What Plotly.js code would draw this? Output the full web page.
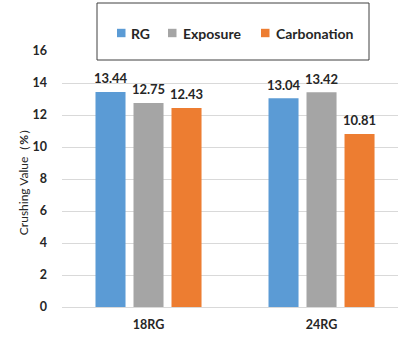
<!DOCTYPE html>
<html>
<head>
<meta charset="utf-8">
<script src="https://cdn.plot.ly/plotly-3.0.1.min.js"></script>
<style>html,body{margin:0;padding:0;overflow:hidden;background:#fff}</style>
</head>
<body>
<div id="chart" style="width:399px;height:338px"></div>
<script>
const categories = ["18RG", "24RG"];
const seriesNames = ["RG", "Exposure", "Carbonation"];
const rgValues = [13.44, 13.04];
const exposureValues = [12.75, 13.42];
const carbonationValues = [12.43, 10.81];
const yTickValues = [0, 2, 4, 6, 8, 10, 12, 14, 16];

const colors = ["#5B9BD5", "#A5A5A5", "#ED7D31"];
const allValues = [rgValues, exposureValues, carbonationValues];
const FONT = "Lato, 'Open Sans', sans-serif";

// plot area geometry in px (for converting legend placement to paper coords)
const L = 62, T = 51, W = 336, H = 256;
const px = x => (x - L) / W;
const py = y => (T + H - y) / H;

const barTraces = allValues.map((vals, i) => ({
  type: "bar",
  name: seriesNames[i],
  x: categories,
  y: vals,
  offsetgroup: String(i),
  marker: {color: colors[i]},
  hoverinfo: "none",
  showlegend: false
}));

const labelTraces = allValues.map((vals, i) => ({
  type: "scatter",
  mode: "markers+text",
  x: categories,
  y: vals,
  offsetgroup: String(i),
  text: vals.map(v => v.toFixed(2)),
  textposition: "top center",
  marker: {size: 7, opacity: 0},
  cliponaxis: false,
  textfont: {family: FONT, size: 13, color: "#262626", weight: "bold"},
  hoverinfo: "none",
  showlegend: false
}));

// manual legend
const legMarkerX = [117, 168, 261];
const legTextX = [129, 181, 274];
const legY = 33;
const shapes = [{
  type: "rect", xref: "paper", yref: "paper",
  x0: px(97), x1: px(369), y0: py(60), y1: py(3),
  line: {color: "#404040", width: 1},
  fillcolor: "#fff", layer: "above"
}];
const annotations = [];
seriesNames.forEach((n, i) => {
  shapes.push({
    type: "rect", xref: "paper", yref: "paper",
    x0: px(legMarkerX[i]), x1: px(legMarkerX[i] + 8.5),
    y0: py(legY + 4.2), y1: py(legY - 4.2),
    line: {width: 0}, fillcolor: colors[i], layer: "above"
  });
  annotations.push({
    xref: "paper", yref: "paper",
    x: px(legTextX[i]), y: py(legY),
    xanchor: "left", yanchor: "middle",
    text: n, showarrow: false,
    font: {family: FONT, size: 14, color: "#262626", weight: "bold"}
  });
});

const layout = {
  width: 399, height: 338,
  margin: {l: L, r: 399 - L - W, t: T, b: 338 - T - H, pad: 0},
  paper_bgcolor: "#fff", plot_bgcolor: "#fff",
  barmode: "group",
  scattermode: "group",
  bargap: 0.341,
  scattergap: 0.341,
  bargroupgap: 0.21,
  showlegend: false,
  shapes: shapes,
  annotations: annotations,
  xaxis: {
    type: "category",
    range: [-0.5, 1.442],
    showgrid: false,
    showline: false,
    zeroline: false,
    ticks: "",
    tickfont: {family: FONT, size: 12.5, color: "#262626", weight: "bold"},
    ticklabelstandoff: 8
  },
  yaxis: {
    range: [0, 16],
    tickvals: yTickValues,
    ticktext: yTickValues.map(String),
    showgrid: true,
    gridcolor: "#D9D9D9",
    gridwidth: 1,
    zeroline: true,
    zerolinecolor: "#D9D9D9",
    zerolinewidth: 1,
    showline: false,
    ticks: "",
    ticklabelstandoff: 14,
    tickfont: {family: FONT, size: 12.5, color: "#262626", weight: "bold"},
    title: {
      text: "Crushing Value（<b>%</b>）",
      font: {family: FONT, size: 12, color: "#262626"},
      standoff: 1
    }
  }
};

Plotly.newPlot("chart", barTraces.concat(labelTraces), layout, {displayModeBar: false, staticPlot: true});
</script>
</body>
</html>
